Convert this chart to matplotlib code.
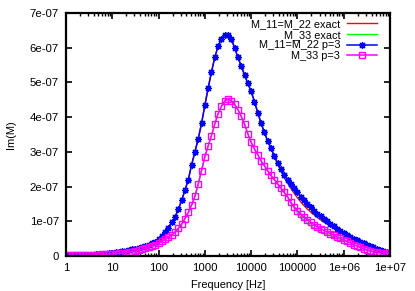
import numpy as np
import matplotlib
matplotlib.use("Agg")
import matplotlib.pyplot as plt
from matplotlib.ticker import LogLocator, FixedLocator, NullFormatter

plt.rcParams['font.family'] = ['Liberation Sans', 'DejaVu Sans']

# frequency grid (Hz): 99 log-spaced samples from 1 to 1e7
freq = np.logspace(0, 7, 99)

# Im(M) values in units of 1e-7
m11_p3 = [
    0.020, 0.022, 0.024, 0.026, 0.029, 0.032, 0.035, 0.039, 0.043, 0.048,
    0.054, 0.061, 0.069, 0.080, 0.092, 0.105, 0.118, 0.133, 0.150, 0.170,
    0.190, 0.212, 0.235, 0.262, 0.292, 0.328, 0.368, 0.415, 0.49, 0.57,
    0.68, 0.82, 0.97, 1.13, 1.35, 1.61, 1.90, 2.20, 2.63, 3.00,
    3.38, 3.82, 4.34, 4.84, 5.30, 5.72, 6.04, 6.25, 6.36, 6.37,
    6.25, 6.00, 5.72, 5.47, 5.22, 4.97, 4.74, 4.45, 4.13, 3.83,
    3.56, 3.32, 3.10, 2.88, 2.68, 2.50, 2.34, 2.20, 2.07, 1.95,
    1.83, 1.71, 1.60, 1.49, 1.40, 1.31, 1.22, 1.14, 1.07, 1.00,
    0.93, 0.86, 0.79, 0.72, 0.66, 0.60, 0.55, 0.50, 0.45, 0.41,
    0.37, 0.33, 0.29, 0.25, 0.21, 0.17, 0.14, 0.12, 0.10,
]
m11_exact = [
    0.020, 0.022, 0.024, 0.026, 0.029, 0.032, 0.035, 0.039, 0.043, 0.048,
    0.054, 0.061, 0.069, 0.080, 0.092, 0.105, 0.118, 0.133, 0.150, 0.170,
    0.190, 0.212, 0.235, 0.262, 0.292, 0.328, 0.368, 0.415, 0.49, 0.57,
    0.68, 0.82, 0.97, 1.13, 1.35, 1.61, 1.90, 2.20, 2.63, 3.00,
    3.38, 3.82, 4.34, 4.84, 5.30, 5.72, 6.04, 6.25, 6.36, 6.37,
    6.25, 6.00, 5.72, 5.47, 5.22, 4.97, 4.74, 4.45, 4.13, 3.83,
    3.56, 3.32, 3.10, 2.88, 2.65, 2.45, 2.26, 2.10, 1.95, 1.81,
    1.68, 1.56, 1.45, 1.35, 1.27, 1.19, 1.11, 1.04, 0.98, 0.92,
    0.86, 0.80, 0.74, 0.68, 0.63, 0.58, 0.54, 0.50, 0.45, 0.41,
    0.37, 0.33, 0.29, 0.25, 0.21, 0.17, 0.14, 0.12, 0.11,
]
m33_p3 = [
    0.018, 0.019, 0.020, 0.021, 0.023, 0.025, 0.027, 0.030, 0.033, 0.036,
    0.040, 0.044, 0.049, 0.055, 0.062, 0.070, 0.079, 0.089, 0.100, 0.113,
    0.128, 0.145, 0.165, 0.190, 0.220, 0.255, 0.290, 0.325, 0.37, 0.42,
    0.48, 0.54, 0.61, 0.69, 0.80, 0.92, 1.08, 1.26, 1.47, 1.72,
    2.08, 2.46, 2.86, 3.17, 3.47, 3.80, 4.10, 4.31, 4.46, 4.52,
    4.46, 4.37, 4.22, 4.02, 3.80, 3.52, 3.28, 3.08, 2.92, 2.74,
    2.60, 2.46, 2.32, 2.20, 2.08, 1.95, 1.83, 1.71, 1.55, 1.42,
    1.30, 1.21, 1.12, 1.04, 0.97, 0.90, 0.83, 0.78, 0.74, 0.69,
    0.64, 0.60, 0.55, 0.51, 0.46, 0.42, 0.38, 0.33, 0.29, 0.25,
    0.21, 0.17, 0.14, 0.12, 0.11, 0.10, 0.09, 0.08, 0.08,
]
m33_exact = [
    0.018, 0.019, 0.020, 0.021, 0.023, 0.025, 0.027, 0.030, 0.033, 0.036,
    0.040, 0.044, 0.049, 0.055, 0.062, 0.070, 0.079, 0.089, 0.100, 0.113,
    0.128, 0.145, 0.165, 0.190, 0.220, 0.255, 0.290, 0.325, 0.37, 0.42,
    0.48, 0.54, 0.61, 0.69, 0.80, 0.92, 1.08, 1.26, 1.47, 1.72,
    2.08, 2.46, 2.86, 3.17, 3.47, 3.80, 4.10, 4.31, 4.46, 4.52,
    4.46, 4.37, 4.22, 4.02, 3.80, 3.52, 3.28, 3.08, 2.92, 2.74,
    2.60, 2.46, 2.32, 2.20, 2.08, 1.95, 1.83, 1.71, 1.53, 1.38,
    1.24, 1.13, 1.03, 0.94, 0.87, 0.80, 0.73, 0.69, 0.66, 0.62,
    0.58, 0.55, 0.51, 0.48, 0.44, 0.41, 0.38, 0.33, 0.29, 0.25,
    0.21, 0.17, 0.14, 0.12, 0.11, 0.10, 0.09, 0.08, 0.08,
]

labels = ["M_11=M_22 exact", "M_33 exact", "M_11=M_22 p=3", "M_33 p=3"]
x_ticks = [1, 10, 100, 1000, 10000, 100000, 1e6, 1e7]
x_ticklabels = ["1", "10", "100", "1000", "10000", "100000", "1e+06", "1e+07"]
y_ticks = [0, 1e-7, 2e-7, 3e-7, 4e-7, 5e-7, 6e-7, 7e-7]
y_ticklabels = ["0", "1e-07", "2e-07", "3e-07", "4e-07", "5e-07", "6e-07", "7e-07"]

scale = 1e-7
fig = plt.figure(figsize=(4.15, 2.91), dpi=100)
ax = fig.add_axes([66 / 415, 35 / 291, 324 / 415, 243 / 291])

ax.plot(freq, np.array(m11_exact) * scale, color="#ff0000", lw=1.0, label=labels[0])
ax.plot(freq, np.array(m33_exact) * scale, color="#00ff00", lw=1.0, label=labels[1])
ax.plot(freq, np.array(m11_p3) * scale, color="#0000ff", lw=1.1,
        marker=(8, 2, 0), ms=5, mew=0.9, label=labels[2])
ax.plot(freq, np.array(m33_p3) * scale, color="#ff00ff", lw=1.1,
        marker="s", ms=4.3, mfc="none", mew=1.0, label=labels[3])

ax.set_xscale("log")
ax.set_xlim(1, 1e7)
ax.set_ylim(0, 7e-7)
ax.xaxis.set_major_locator(FixedLocator(x_ticks))
ax.set_xticklabels(x_ticklabels)
ax.xaxis.set_minor_locator(LogLocator(base=10, subs=np.arange(2, 10), numticks=20))
ax.xaxis.set_minor_formatter(NullFormatter())
ax.set_yticks(y_ticks)
ax.set_yticklabels(y_ticklabels)

fs = 8.2
ax.tick_params(axis="both", which="major", direction="in", length=4, width=1.2,
               top=True, right=True, labelsize=fs, pad=5)
ax.tick_params(axis="both", which="minor", direction="in", length=2, width=1.0,
               top=True, right=True)
for s in ax.spines.values():
    s.set_linewidth(1.6)

ax.set_xlabel("Frequency [Hz]", fontsize=7.9, labelpad=5)
ax.set_ylabel("Im(M)", fontsize=7.9, labelpad=10)

leg = ax.legend(loc="upper right", bbox_to_anchor=(0.972, 0.992), frameon=False,
                fontsize=7.8, markerfirst=False, numpoints=1, handlelength=2.75,
                handletextpad=0.6, labelspacing=0.05, borderaxespad=0.0,
                borderpad=0.4)

fig.savefig("out.png", dpi=100)
